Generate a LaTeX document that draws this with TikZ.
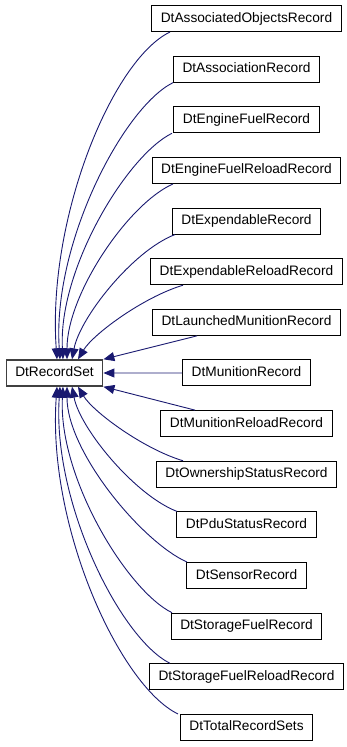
\documentclass[tikz,border=0pt]{standalone}
\usepackage{fontspec}
\setmainfont{Liberation Sans}
\usetikzlibrary{arrows.meta}
\definecolor{edgeblue}{RGB}{25,25,112}

\tikzset{
  cls/.style={draw=black, line width=1pt, fill=white, font=\fontsize{13.7}{16}\selectfont,
    minimum height=26pt, inner xsep=9pt, inner ysep=0pt, text height=10pt, text depth=3pt},
  basecls/.style={cls, draw=black!75, line width=1.4pt},
  inherit/.style={draw=edgeblue, line width=0.9pt, -{Triangle[length=11pt,width=9pt]}}
}

\begin{document}
\begin{tikzpicture}[x=1pt, y=-1pt]
  % Canvas
  \useasboundingbox (0,0) rectangle (347,747);

  % Base class
  \node[basecls] (base) at (54.5,373) {DtRecordSet};

  % Derived classes
  \foreach \i/\name in {1/DtAssociatedObjectsRecord, 2/DtAssociationRecord, 3/DtEngineFuelRecord,
      4/DtEngineFuelReloadRecord, 5/DtExpendableRecord, 6/DtExpendableReloadRecord,
      7/DtLaunchedMunitionRecord, 8/DtMunitionRecord, 9/DtMunitionReloadRecord,
      10/DtOwnershipStatusRecord, 11/DtPduStatusRecord, 12/DtSensorRecord,
      13/DtStorageFuelRecord, 14/DtStorageFuelReloadRecord, 15/DtTotalRecordSets} {
    \node[cls] (d\i) at (246.5,{18.5+50.64*(\i-1)}) {\name};
  }

  % Upper curved edges
  \foreach \i/\sx/\ax/\ay/\bx/\by/\ex in {1/170/-58/28/-10/-140/57, 2/173/-50/25/-8/-115/60,
      3/172/-45/22/-5/-90/63, 4/173/-45/20/0/-65/67, 5/175/-42/16/8/-42/72, 6/183/-40/12/15/-25/78} {
    \coordinate (s\i) at (\sx,0);
    \coordinate (e\i) at (\ex,0);
    \draw[inherit] (d\i.south -| s\i) .. controls +(\ax,\ay) and +(\bx,\by) .. (base.north -| e\i);
  }

  % Lower curved edges
  \foreach \i/\sx/\ax/\ay/\bx/\by/\ex in {10/183/-40/-12/15/25/78, 11/177/-42/-16/8/42/72,
      12/187/-45/-20/0/65/67, 13/172/-45/-22/-5/90/63, 14/170/-50/-25/-8/115/60, 15/178/-58/-28/-10/140/57} {
    \coordinate (s\i) at (\sx,0);
    \coordinate (e\i) at (\ex,0);
    \draw[inherit] (d\i.north -| s\i) .. controls +(\ax,\ay) and +(\bx,\by) .. (base.south -| e\i);
  }

  % Straight edges
  \coordinate (s7) at (197,0);
  \coordinate (s9) at (195,0);
  \draw[inherit] (d7.south -| s7) -- (base.north east);
  \draw[inherit] (d8.west) -- (base.east);
  \draw[inherit] (d9.north -| s9) -- (base.south east);
\end{tikzpicture}
\end{document}
